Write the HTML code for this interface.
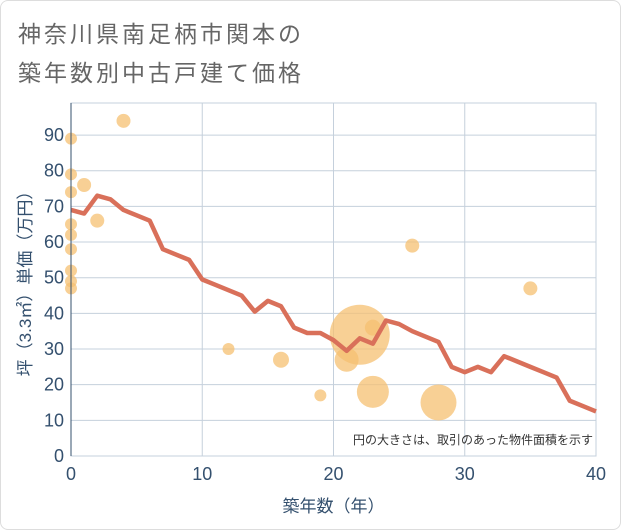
<!DOCTYPE html>
<html><head><meta charset="utf-8"><style>
body{margin:0;background:#fff;}
#wrap{position:relative;width:619px;height:528px;border:1px solid #ddd;border-radius:8px;background:#fff;overflow:hidden;}
.t{position:absolute;left:17px;font:23px "Liberation Sans","Noto Sans CJK JP",sans-serif;color:#666;letter-spacing:3px;}
svg text{font-family:"Liberation Sans","Noto Sans CJK JP",sans-serif;}
</style></head><body>
<div id="wrap">
<div class="t" style="top:14px">神奈川県南足柄市関本の</div>
<div class="t" style="top:53px">築年数別中古戸建て価格</div>
<svg id="c" width="621" height="530" style="position:absolute;left:-1px;top:-1px"></svg>
</div>
<script>
const xTicks=[0,10,20,30,40];
const yTicks=[0,10,20,30,40,50,60,70,80,90];
const lineX=[0,1,2,3,4,5,6,7,8,9,10,11,12,13,14,15,16,17,18,19,20,21,22,23,24,25,26,27,28,29,30,31,32,33,34,35,36,37,38,39,40];
const lineY=[69,68,73,72,69,67.5,66,58,56.5,55,49.5,48,46.5,45,40.5,43.5,42,36,34.5,34.5,32.5,29.5,33,31.5,38,37,35,33.5,32,25,23.5,25,23.5,28,26.5,25,23.5,22,15.5,14,12.5];
const bubX=[0,0,0,0,0,0,0,0,0,1,2,4,12,16,19,21,22,23,23,26,28,35];
const bubY=[89,79,74,65,62,58,52,49,47,76,66,94,30,27,17,27,34,36,18,59,15,47];
const bubR=[6,6,6,6,6,6,6,6,6,7,7,7,6,8,6,12,30,8,16,7,18,7];
const L=71,R=596,T=103,B=456;
const sx=v=>L+(v-0)/40*(R-L);
const sy=v=>B-v/99*(B-T);
const svg=document.getElementById('c');const NS='http://www.w3.org/2000/svg';
function mk(tag,a,p){const e=document.createElementNS(NS,tag);for(const k in a)e.setAttribute(k,a[k]);(p||svg).appendChild(e);return e;}
const bg=mk('rect',{x:L,y:T,width:R-L,height:B-T,fill:'#fff',stroke:'#c5d0dc'});


yTicks.forEach(v=>{const g=mk('line',{x1:L,x2:R,y1:sy(v),y2:sy(v),stroke:'#c5d0dc'});


const t=mk('text',{x:L-7,y:sy(v)+6,'text-anchor':'end','font-size':18,fill:'#34506e'});t.textContent=v;

});
xTicks.forEach(v=>{const g=mk('line',{x1:sx(v),x2:sx(v),y1:T,y2:B,stroke:'#c5d0dc'});


const t=mk('text',{x:sx(v),y:B+24,'text-anchor':'middle','font-size':18,fill:'#34506e'});t.textContent=v;

});
bubX.forEach((x,i)=>{const c=mk('circle',{cx:sx(x),cy:sy(bubY[i]),r:bubR[i],fill:'#f5c071',opacity:0.75});

});
const pl=mk('polyline',{points:lineX.map((x,i)=>sx(x)+','+sy(lineY[i])).join(' '),fill:'none',stroke:'#d9705a','stroke-width':4.5,'stroke-linejoin':'round'});


mk('line',{x1:L,x2:L,y1:T,y2:B,stroke:'#34506e'});
const note=mk('text',{x:R-3,y:B-12,'text-anchor':'end','font-size':12,fill:'#333'});note.textContent='円の大きさは、取引のあった物件面積を示す';


const xt=mk('text',{x:(L+R)/2,y:512,'text-anchor':'middle','font-size':17,fill:'#34506e'});xt.textContent='築年数（年）';


const yt=mk('text',{x:0,y:0,'text-anchor':'middle','font-size':17,fill:'#34506e',transform:'translate(31,'+((T+B)/2)+') rotate(-90)'});yt.textContent='坪（3.3㎡）単価（万円）';


</script>
</body></html>
